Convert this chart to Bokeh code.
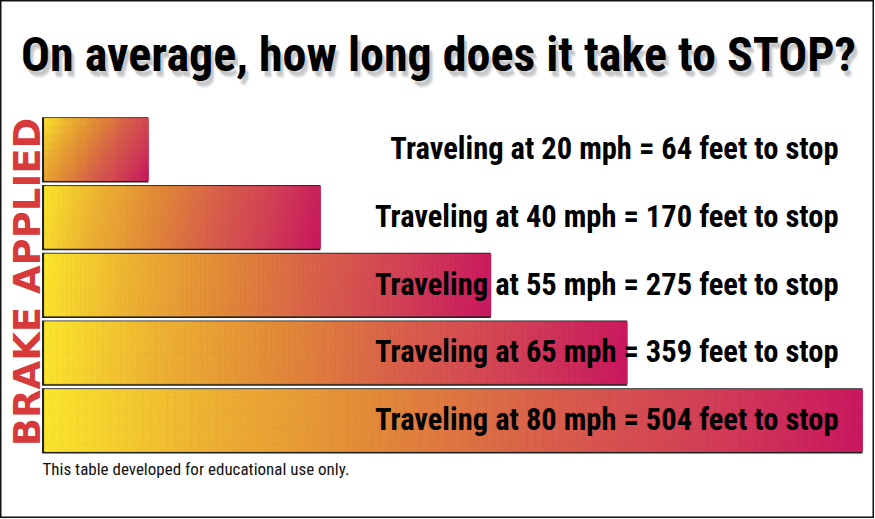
import math
from bokeh.plotting import figure
from bokeh.models import Range1d, Label, LabelSet, ColumnDataSource
from bokeh.core.properties import value
from bokeh.embed import file_html
from bokeh.resources import INLINE

# ---- data ----
speeds_mph = [20, 40, 55, 65, 80]
stop_feet = [64, 170, 275, 359, 504]
title_text = "On average, how long does it take to STOP?"
side_text = "BRAKE APPLIED"
footnote = "This table developed for educational use only."

# gradient colour stops (position, hex)
grad_pos = [0.0, 0.2, 0.4, 0.6, 0.8, 1.0]
grad_col = ["#fbe62c", "#eeb133", "#e28a38", "#d9614a", "#d24056", "#c9175f"]

# ---- layout (pixels) ----
W, H = 874, 518
x0_px = 44          # pixel where 0 ft sits
bar_span_px = 818   # pixel length of the longest bar
k = bar_span_px / max(stop_feet)   # px per foot
top0 = 118
pitch = 67.75
bar_h = 62

def hex2rgb(h):
    h = h.lstrip("#")
    return tuple(int(h[i:i + 2], 16) for i in (0, 2, 4))

def grad(t):
    t = min(max(t, 0.0), 1.0)
    for i in range(len(grad_pos) - 1):
        if grad_pos[i] <= t <= grad_pos[i + 1]:
            f = (t - grad_pos[i]) / (grad_pos[i + 1] - grad_pos[i])
            a = hex2rgb(grad_col[i]); b = hex2rgb(grad_col[i + 1])
            c = [round(a[j] + (b[j] - a[j]) * f) for j in range(3)]
            return "#%02x%02x%02x" % tuple(c)
    return grad_col[-1]

x_start = -x0_px / k
x_end = x_start + W / k

p = figure(width=W, height=H, output_backend="svg", toolbar_location=None,
           x_range=Range1d(x_start, x_end), y_range=Range1d(H, 0),
           min_border=0, background_fill_color="white",
           border_fill_color="white")
p.axis.visible = False
p.xgrid.visible = False
p.ygrid.visible = False
p.outline_line_color = "#111111"
p.outline_line_width = 2

# ---- bars ----
bg = dict(left=[], right=[], top=[], bottom=[])
cells = dict(left=[], right=[], top=[], bottom=[], color=[])
NX, NY = 100, 8
for i, v in enumerate(stop_feet):
    top = top0 + i * pitch
    bot = top + bar_h
    bg["left"].append(-2.5 / k); bg["right"].append(v)
    bg["top"].append(top - 1.2); bg["bottom"].append(bot + 2)
    w_px = v * k
    wx2, hy2 = w_px ** 2, bar_h ** 2
    for ix in range(NX):
        for iy in range(NY):
            u = (ix + 0.5) / NX
            vv = (iy + 0.5) / NY
            t = (u * wx2 + vv * hy2) / (wx2 + hy2)
            cells["left"].append(v * ix / NX)
            cells["right"].append(v * (ix + 1) / NX)
            cells["top"].append(top + bar_h * iy / NY)
            cells["bottom"].append(top + bar_h * (iy + 1) / NY)
            cells["color"].append(grad(t))

p.quad(left="left", right="right", top="top", bottom="bottom",
       source=ColumnDataSource(bg), fill_color="#222222", line_color=None)
p.quad(left="left", right="right", top="top", bottom="bottom",
       source=ColumnDataSource(cells), fill_color="color", line_color="color",
       line_width=0.8)

# ---- row labels ----
lab_src = ColumnDataSource(dict(
    x=[838] * len(speeds_mph),
    y=[top0 + i * pitch + bar_h / 2 - 1 for i in range(len(speeds_mph))],
    text=[f"Traveling at {s} mph = {f} feet to stop" for s, f in zip(speeds_mph, stop_feet)],
))
p.add_layout(LabelSet(x="x", y="y", text="text", source=lab_src,
                      x_units="screen", y_units="data",
                      text_align="right", text_baseline="middle",
                      text_font=value("Roboto Condensed"), text_font_style="bold",
                      text_font_size="30.5px", text_color="black"))

# ---- title with soft shadow ----
TX, TY, TS = 438, 54, "48px"
for dx, dy, a in [(2, 4, 0.09), (3, 5, 0.11), (4, 6, 0.09), (3, 7, 0.07), (5, 7, 0.05)]:
    p.add_layout(Label(x=TX + dx, y=TY + dy, x_units="screen", y_units="data",
                       text=title_text, text_align="center", text_baseline="alphabetic",
                       text_font="Roboto Condensed", text_font_style="bold",
                       text_font_size=TS, text_color="#555555", text_alpha=a))
p.add_layout(Label(x=TX, y=TY, x_units="screen", y_units="data",
                   text=title_text, text_align="center", text_baseline="alphabetic",
                   text_font="Roboto Condensed", text_font_style="bold",
                   text_font_size=TS, text_color="black"))

# ---- side label ----
p.add_layout(Label(x=27, y=281.5, x_units="screen", y_units="data",
                   text=side_text, angle=math.pi / 2, text_align="center",
                   text_baseline="middle", text_font="DejaVu Sans",
                   text_font_style="bold", text_font_size="37px",
                   text_color="#d63a3a"))

# ---- footnote ----
p.add_layout(Label(x=42, y=468, x_units="screen", y_units="data",
                   text=footnote, text_align="left", text_baseline="middle",
                   text_font="Roboto Condensed", text_font_size="17px",
                   text_color="#111111"))

open("out.html", "w").write(file_html(p, INLINE))
